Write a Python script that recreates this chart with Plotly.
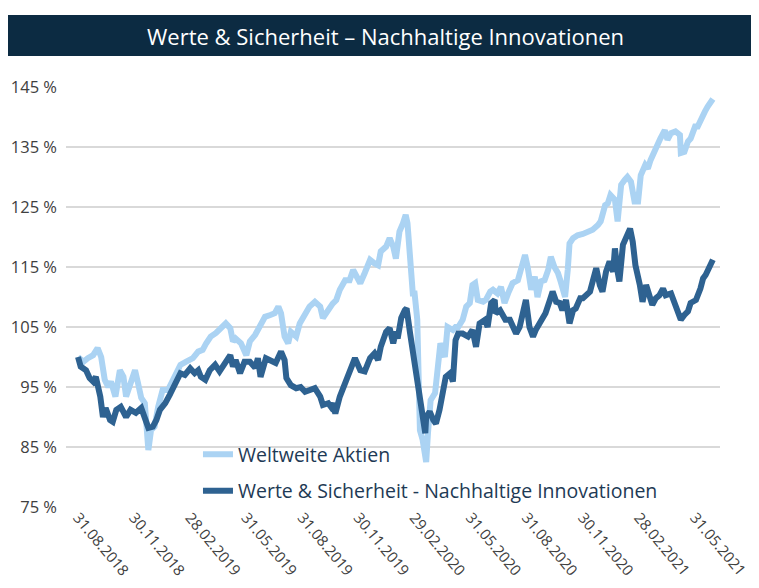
import plotly.graph_objects as go

# Trading-day index (0 = 31.08.2018, 713 = 31.05.2021) and indexed values (%)
welt_x = [0, 6, 11, 17, 22, 26, 30, 34, 37, 42, 47, 51, 54, 58, 64, 67, 71, 75, 79, 82,
          86, 90, 95, 101, 107, 115, 121, 129, 135, 140, 144, 149, 155, 161, 166, 171, 174, 177, 183, 189,
          193, 199, 204, 210, 216, 221, 225, 228, 232, 236, 239, 245, 249, 255, 260, 266, 272, 275, 281, 286,
          290, 294, 300, 305, 309, 312, 317, 322, 328, 333, 337, 340, 346, 350, 354, 357, 361, 365, 368, 370,
          374, 376, 378, 381, 382, 383, 384, 387, 391, 393, 396, 401, 404, 407, 412, 415, 421, 424, 427, 432,
          436, 440, 443, 446, 449, 455, 458, 463, 466, 471, 475, 479, 483, 488, 494, 497, 502, 505, 509, 513,
          516, 520, 524, 528, 531, 535, 539, 542, 547, 550, 552, 556, 561, 567, 572, 578, 584, 587, 592, 595,
          598, 603, 606, 610, 614, 617, 621, 625, 629, 632, 637, 640, 643, 648, 651, 654, 659, 662, 666, 671,
          676, 677, 681, 685, 688, 693, 696, 699, 704, 707, 711, 713]
welt_y = [100.0, 99.2, 99.8, 100.3, 101.5, 100.0, 96.2, 95.0, 95.9, 93.4, 97.8, 96.7, 93.4, 95.0, 97.8, 95.9, 93.2, 92.3, 84.5, 87.8,
          88.4, 91.7, 94.5, 94.5, 96.2, 98.7, 99.2, 99.8, 100.9, 101.2, 102.3, 103.4, 104.0, 104.8, 105.6, 104.8, 102.6, 103.1, 102.3, 100.3,
          102.6, 103.7, 105.0, 106.7, 107.0, 107.3, 108.4, 107.3, 103.4, 102.3, 104.2, 103.4, 105.6, 107.3, 108.4, 109.2, 108.4, 106.5, 108.0, 108.9,
          109.5, 111.2, 112.8, 112.8, 114.5, 113.7, 112.3, 114.0, 116.2, 115.6, 115.3, 117.6, 118.4, 119.8, 118.4, 116.4, 120.9, 122.3, 123.7, 122.3,
          115.0, 110.6, 110.6, 106.2, 100.0, 93.0, 87.8, 86.2, 82.5, 87.3, 92.8, 94.0, 99.5, 102.3, 100.0, 105.0, 104.5, 105.0, 105.0, 106.2,
          108.4, 109.0, 112.0, 112.3, 109.5, 109.2, 109.5, 110.9, 111.2, 110.6, 111.7, 109.0, 110.6, 112.3, 112.8, 114.5, 117.0, 115.0, 111.2, 113.4,
          110.0, 112.6, 112.8, 114.5, 116.7, 115.0, 114.0, 112.6, 110.0, 114.5, 118.9, 119.8, 120.3, 120.5, 120.9, 121.2, 122.0, 122.6, 125.3, 125.6,
          127.0, 126.2, 122.6, 128.7, 129.5, 130.0, 129.2, 125.9, 125.9, 130.3, 132.0, 131.4, 132.8, 134.5, 135.9, 136.4, 137.8, 136.2, 137.3, 137.6,
          137.0, 134.0, 134.2, 135.9, 136.4, 138.4, 138.4, 139.5, 140.9, 141.7, 142.8, 143.0]

ws_x = [0, 3, 9, 13, 17, 20, 25, 28, 31, 36, 39, 43, 48, 54, 59, 65, 71, 75, 79, 84,
        88, 92, 98, 103, 109, 115, 120, 126, 131, 135, 138, 143, 148, 154, 159, 165, 171, 174, 177, 182,
        187, 193, 199, 202, 205, 211, 217, 222, 228, 232, 234, 239, 245, 250, 255, 260, 266, 272, 275, 281,
        284, 286, 289, 294, 300, 305, 311, 317, 322, 328, 333, 337, 340, 346, 350, 354, 357, 359, 363, 367,
        369, 373, 376, 379, 384, 387, 390, 391, 395, 399, 402, 406, 410, 413, 418, 421, 424, 427, 432, 438,
        443, 447, 451, 457, 460, 464, 468, 469, 474, 477, 480, 485, 488, 492, 496, 500, 503, 507, 511, 514,
        520, 525, 530, 533, 537, 541, 544, 548, 552, 556, 559, 564, 567, 570, 575, 578, 582, 586, 589, 593,
        597, 601, 603, 606, 608, 612, 615, 620, 623, 626, 631, 634, 638, 642, 645, 649, 653, 657, 660, 666,
        670, 674, 677, 681, 685, 688, 694, 699, 702, 705, 710, 713]
ws_y = [100.0, 98.4, 97.8, 96.5, 95.9, 96.7, 93.4, 90.0, 91.5, 89.5, 89.2, 91.2, 91.7, 90.0, 91.2, 90.7, 91.5, 89.5, 88.2, 88.4,
        89.5, 91.2, 92.3, 93.7, 95.6, 97.3, 97.0, 98.1, 97.3, 97.8, 96.7, 96.2, 97.8, 98.7, 97.6, 99.2, 100.3, 98.4, 99.5, 97.3,
        99.2, 99.2, 98.2, 99.8, 96.7, 99.8, 99.5, 99.0, 100.9, 99.5, 96.5, 95.3, 94.8, 95.0, 94.2, 94.5, 94.8, 93.4, 92.0, 92.3,
        91.7, 92.3, 90.6, 93.4, 95.9, 97.3, 99.8, 97.8, 97.6, 99.8, 100.6, 99.5, 101.7, 104.2, 104.8, 102.3, 104.2, 103.1, 106.5, 107.8,
        108.1, 103.9, 101.2, 98.4, 92.8, 90.0, 87.3, 90.0, 90.9, 89.5, 88.9, 91.2, 94.0, 96.7, 97.3, 95.9, 102.8, 103.9, 103.9, 103.4,
        104.5, 101.7, 105.6, 106.2, 105.0, 109.0, 109.5, 107.3, 107.8, 106.7, 106.2, 106.2, 105.0, 103.9, 105.0, 107.8, 109.5, 105.0, 103.4, 104.5,
        106.2, 107.3, 109.5, 110.9, 109.2, 109.0, 107.8, 109.5, 105.6, 107.8, 108.1, 109.8, 109.8, 110.3, 110.9, 112.6, 114.8, 112.0, 110.9, 114.2,
        115.9, 114.2, 118.1, 114.2, 112.6, 118.7, 119.8, 121.4, 119.2, 115.3, 112.0, 109.2, 112.0, 109.8, 108.7, 109.8, 110.3, 111.4, 110.3, 110.6,
        109.2, 107.6, 106.2, 107.0, 107.6, 109.0, 109.5, 111.4, 113.1, 113.7, 115.0, 116.2]

tick_idx = [0, 63, 126, 189, 252, 315, 378, 441, 504, 567, 630, 693]
tick_labels = ["31.08.2018", "30.11.2018", "28.02.2019", "31.05.2019", "31.08.2019", "30.11.2019",
               "29.02.2020", "31.05.2020", "31.08.2020", "30.11.2020", "28.02.2021", "31.05.2021"]
y_ticks = [75, 85, 95, 105, 115, 125, 135, 145]
y_labels = [f"{v} %" for v in y_ticks]

FONT = "Open Sans"
TXT = "#404040"

fig = go.Figure()
fig.add_trace(go.Scatter(x=welt_x, y=welt_y, mode="lines", name="Weltweite Aktien",
                         legendgroup="a",
                         line=dict(color="#abd3f3", width=6)))
fig.add_trace(go.Scatter(x=ws_x, y=ws_y, mode="lines",
                         name="Werte & Sicherheit - Nachhaltige Innovationen",
                         legendgroup="b",
                         line=dict(color="#2e6291", width=6)))

fig.update_layout(
    width=743, height=572,
    margin=dict(l=58, r=31, t=79, b=73, autoexpand=False),
    paper_bgcolor="white", plot_bgcolor="white",
    font=dict(family=FONT, color=TXT),
    showlegend=True,
    legend=dict(x=0.2018, y=0.171, xanchor="left", yanchor="top",
                bgcolor="rgba(0,0,0,0)", font=dict(size=19.5, color="#1e3a55", family=FONT),
                tracegroupgap=8, traceorder="grouped"),
    xaxis=dict(range=[-13.5, 721], tickmode="array", tickvals=tick_idx, ticktext=tick_labels,
               tickangle=50, showgrid=False, zeroline=False, showline=False, automargin=False,
               ticklabeloverflow="allow", ticklabelstandoff=-2,
               tickfont=dict(size=15, color=TXT, family=FONT)),
    yaxis=dict(range=[75, 145], tickmode="array", tickvals=y_ticks, ticktext=y_labels,
               showgrid=True, gridcolor="#d9d9d9", gridwidth=2, zeroline=False, showline=False,
               ticklabelstandoff=8, automargin=False,
               tickfont=dict(size=16.5, color=TXT, family=FONT)),
    shapes=[dict(type="rect", xref="paper", yref="paper",
                 x0=-0.089, x1=1.06, y0=1.0738, y1=1.1714,
                 fillcolor="#0c2b42", line=dict(width=0), layer="above")],
    annotations=[dict(text="Werte & Sicherheit – Nachhaltige Innovationen", xref="paper", yref="paper",
                      x=0.489, y=(499 - 27.5) / 420, xanchor="center", yanchor="middle",
                      showarrow=False, font=dict(size=22, color="white", family=FONT))],
)

fig.write_html("out.html")
